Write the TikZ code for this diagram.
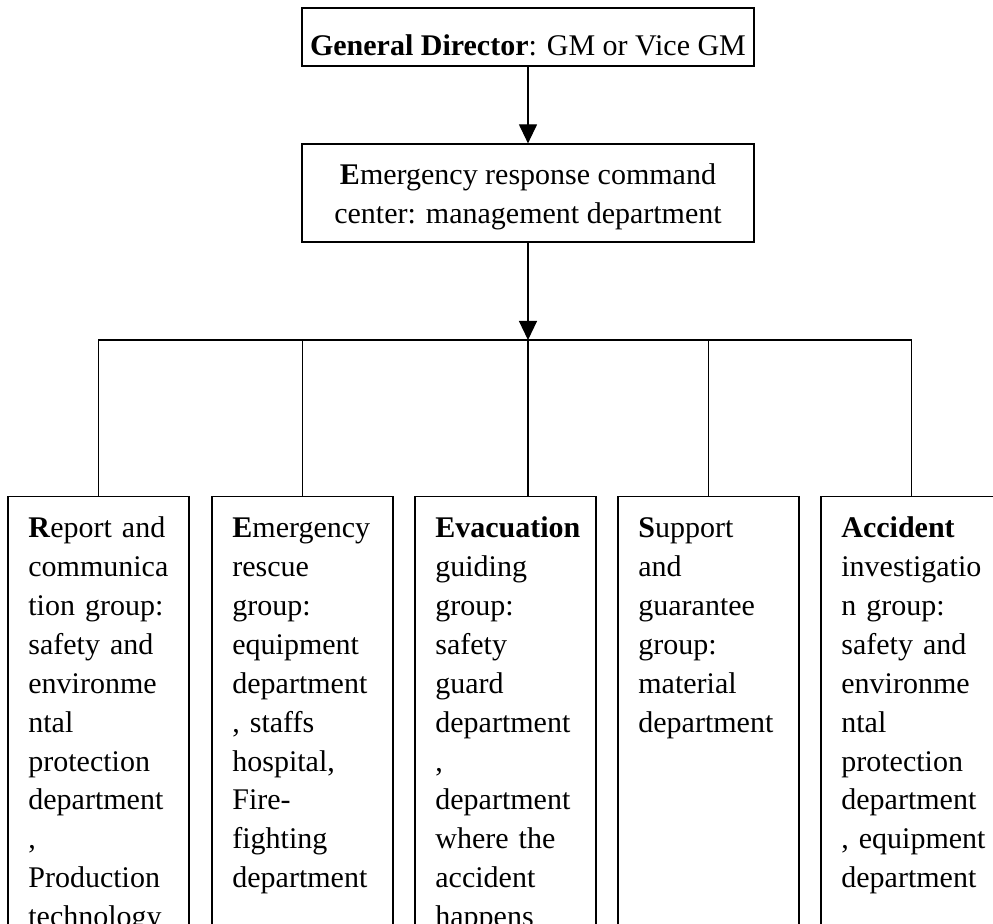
\documentclass[tikz,border=0pt]{standalone}
\usepackage{fontspec}
\setmainfont{Liberation Serif}
\usetikzlibrary{arrows.meta}
\tikzset{
  frame/.style={draw, line width=0.6pt, inner sep=0pt, fill=none},
  topbox/.style={frame, minimum width=226pt, minimum height=29pt},
  midbox/.style={frame, minimum width=226pt, minimum height=49pt},
  groupbox/.style={frame, anchor=north, minimum width=90.5pt, minimum height=230pt},
  txt/.style={inner sep=0pt, font=\fontsize{15}{19.45}\selectfont},
  grouptxt/.style={txt, anchor=north west, text width=85pt, align=left},
  link/.style={line width=0.6pt},
  arrowlink/.style={link, -{Triangle[length=9.5pt, width=9pt]}}
}
\begin{document}
\begin{tikzpicture}[x=0.5pt, y=-0.5pt]
  \clip (0,0) rectangle (993,924);

  % command levels
  \node[topbox] (gm) at (528,37) {};
  \node[txt, anchor=north] (gmtxt) at (528,27.8)
    {\strut\textbf{General Director}: GM or Vice GM};

  \node[midbox] (center) at (528,193) {};
  \node[txt, anchor=north, align=center] (centertxt) at (528,156.8)
    {\strut\textbf{E}mergency response command\\center: management department};

  % working groups
  \node[groupbox] (g1) at (98.5,496) {};
  \node[groupbox] (g2) at (302.5,496) {};
  \node[groupbox] (g3) at (505.5,496) {};
  \node[groupbox] (g4) at (708.5,496) {};
  \node[groupbox] (g5) at (911.5,496) {};

  \node[grouptxt] (g1txt) at (28,510)
    {\strut\textbf{R}eport and\\communica\\tion group:\\safety and\\environme\\ntal\\protection\\department\\,\\Production\\technology};
  \node[grouptxt] (g2txt) at (232,510)
    {\strut\textbf{E}mergency\\rescue\\group:\\equipment\\department\\, staffs\\hospital,\\Fire-\\fighting\\department};
  \node[grouptxt] (g3txt) at (435,510)
    {\strut\textbf{Evacuation}\\guiding\\group:\\safety\\guard\\department\\,\\department\\where the\\accident\\happens};
  \node[grouptxt] (g4txt) at (638,510)
    {\strut\textbf{S}upport\\and\\guarantee\\group:\\material\\department};
  \node[grouptxt] (g5txt) at (841,510)
    {\strut\textbf{Accident}\\investigatio\\n group:\\safety and\\environme\\ntal\\protection\\department\\, equipment\\department};

  % connectors
  \coordinate (bus) at (528,340);
  \draw[arrowlink] (gm.south) -- (center.north);
  \draw[arrowlink] (center.south) -- (bus);
  \draw[link] (g1.north) -- (g1.north |- bus) -- (g5.north |- bus) -- (g5.north);
  \draw[link] (g2.north) -- (g2.north |- bus);
  \draw[link] (g4.north) -- (g4.north |- bus);
  \draw[link] (bus) -- (bus |- g3.north);
\end{tikzpicture}
\end{document}
